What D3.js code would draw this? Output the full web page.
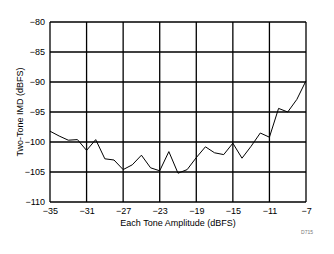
<!DOCTYPE html>
<html><head><meta charset="utf-8">
<script src="https://cdn.jsdelivr.net/npm/d3@7"></script>
<style>html,body{margin:0;padding:0;background:#fff;}svg{display:block;}</style>
</head><body>
<script>
const amplitude = [-35,-34,-33,-32,-31,-30,-29,-28,-27,-26,-25,-24,-23,-22,-21,-20,-19,-18,-17,-16,-15,-14,-13,-12,-11,-10,-9,-8,-7];
const imd = [-98.2,-99.0,-99.7,-99.6,-101.4,-99.6,-102.8,-103.0,-104.6,-103.8,-102.2,-104.3,-104.8,-101.6,-105.2,-104.6,-102.6,-100.8,-101.8,-102.1,-100.2,-102.7,-100.7,-98.5,-99.2,-94.4,-95.0,-92.9,-89.8];
const xTicks = [-35,-31,-27,-23,-19,-15,-11,-7];
const yTicks = [-110,-105,-100,-95,-90,-85,-80];
const xTitle = "Each Tone Amplitude (dBFS)";
const yTitle = "Two-Tone IMD (dBFS)";
const code = "D715";

const W = 334, H = 254;
const m = {l:50, r:28, t:22, b:52};
const svg = d3.select("body").append("svg").attr("width", W).attr("height", H);
const x = d3.scaleLinear().domain([-35,-7]).range([m.l, W - m.r]);
const y = d3.scaleLinear().domain([-110,-80]).range([H - m.b, m.t]);
const font = "Liberation Sans, Arial, sans-serif";

const g = svg.append("g");
// grid
g.selectAll(".vg").data(xTicks).join("line")
  .attr("x1", d => x(d)).attr("x2", d => x(d)).attr("y1", y(-80)).attr("y2", y(-110))
  .attr("stroke", "#000").attr("stroke-width", 1.3);
g.selectAll(".hg").data(yTicks).join("line")
  .attr("y1", d => y(d)).attr("y2", d => y(d)).attr("x1", x(-35)).attr("x2", x(-7))
  .attr("stroke", "#000").attr("stroke-width", 1.3);

// axes labels via d3 axes
const xAxis = svg.append("g").attr("transform", `translate(0,${y(-110)})`)
  .call(d3.axisBottom(x).tickValues(xTicks).tickSize(0).tickPadding(6).tickFormat(d3.format("d")));
xAxis.select(".domain").remove();
xAxis.selectAll("text").attr("font-family", font).attr("font-size", 9).attr("fill", "#000");

const yAxis = svg.append("g").attr("transform", `translate(${x(-35)},0)`)
  .call(d3.axisLeft(y).tickValues(yTicks).tickSize(0).tickPadding(5).tickFormat(d3.format("d")));
yAxis.select(".domain").remove();
yAxis.selectAll("text").attr("font-family", font).attr("font-size", 9).attr("fill", "#000");

// data line
const line = d3.line().x((d,i) => x(amplitude[i])).y(d => y(d));
svg.append("path").datum(imd).attr("d", line)
  .attr("fill", "none").attr("stroke", "#000").attr("stroke-width", 1);

// titles
svg.append("text").attr("x", (x(-35)+x(-7))/2).attr("y", 226)
  .attr("text-anchor", "middle").attr("font-family", font).attr("font-size", 9).text(xTitle);
svg.append("text").attr("transform", `translate(23,${(y(-80)+y(-110))/2}) rotate(-90)`)
  .attr("text-anchor", "middle").attr("font-family", font).attr("font-size", 9).text(yTitle);
svg.append("text").attr("x", 313).attr("y", 234).attr("text-anchor", "end")
  .attr("font-family", font).attr("font-size", 5).attr("fill", "#777").text(code);
</script>
</body></html>
